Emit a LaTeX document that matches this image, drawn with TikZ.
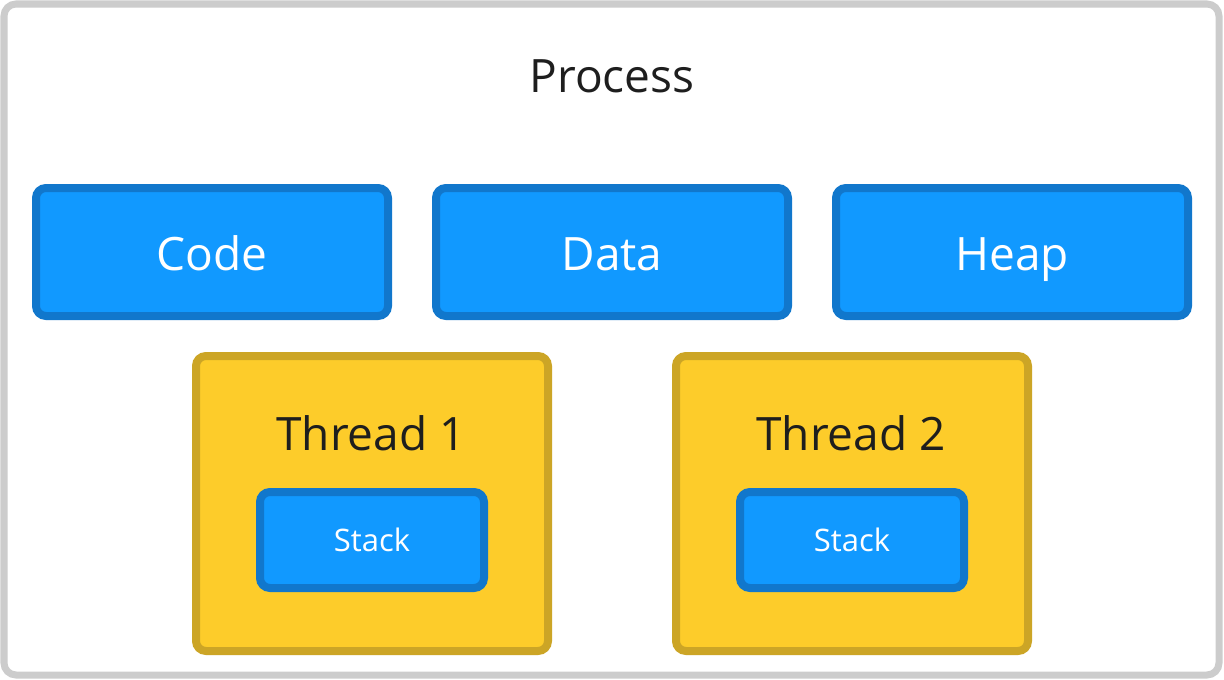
\documentclass[tikz,border=0pt]{standalone}
\usepackage{fontspec}
\setmainfont{Open Sans}
\definecolor{framegray}{HTML}{CCCCCC}
\definecolor{segfill}{HTML}{1199FF}
\definecolor{segline}{HTML}{1177CC}
\definecolor{thrfill}{HTML}{FDCC2A}
\definecolor{thrline}{HTML}{CCA526}
\definecolor{ink}{HTML}{1E1E1E}
\begin{document}
\begin{tikzpicture}[x=1pt,y=-1pt,
  segbox/.style={draw=segline, fill=segfill, line width=8pt, rounded corners=10pt},
  thrbox/.style={draw=thrline, fill=thrfill, line width=8pt, rounded corners=10pt},
  bigwhite/.style={text=white, font=\fontsize{46}{50}\selectfont, anchor=base},
  bigdark/.style={text=ink, font=\fontsize{46}{50}\selectfont, anchor=base},
  smallwhite/.style={text=white, font=\fontsize{31}{35}\selectfont, anchor=base}]
\useasboundingbox (0,0) rectangle (1224,680);
% process frame
\draw[draw=framegray, fill=white, line width=7pt, rounded corners=12pt] (4,4) rectangle (1219,675);
\node[bigdark] (proc) at (612,92) {Process};
% shared segments
\draw[segbox] (36,188) rectangle (388,316);
\node[bigwhite] (code) at (212,270) {Code};
\draw[segbox] (436,188) rectangle (788,316);
\node[bigwhite] (data) at (612,270) {Data};
\draw[segbox] (836,188) rectangle (1188,316);
\node[bigwhite] (heap) at (1012,270) {Heap};
% threads
\draw[thrbox] (196,356) rectangle (548,651);
\node[bigdark] (t1) at (371,450) {Thread 1};
\draw[segbox] (260,492) rectangle (484,588);
\node[smallwhite] (s1) at (372,551) {Stack};
\draw[thrbox] (676,356) rectangle (1028,651);
\node[bigdark] (t2) at (851,450) {Thread 2};
\draw[segbox] (740,492) rectangle (964,588);
\node[smallwhite] (s2) at (852,551) {Stack};
\end{tikzpicture}
\end{document}
